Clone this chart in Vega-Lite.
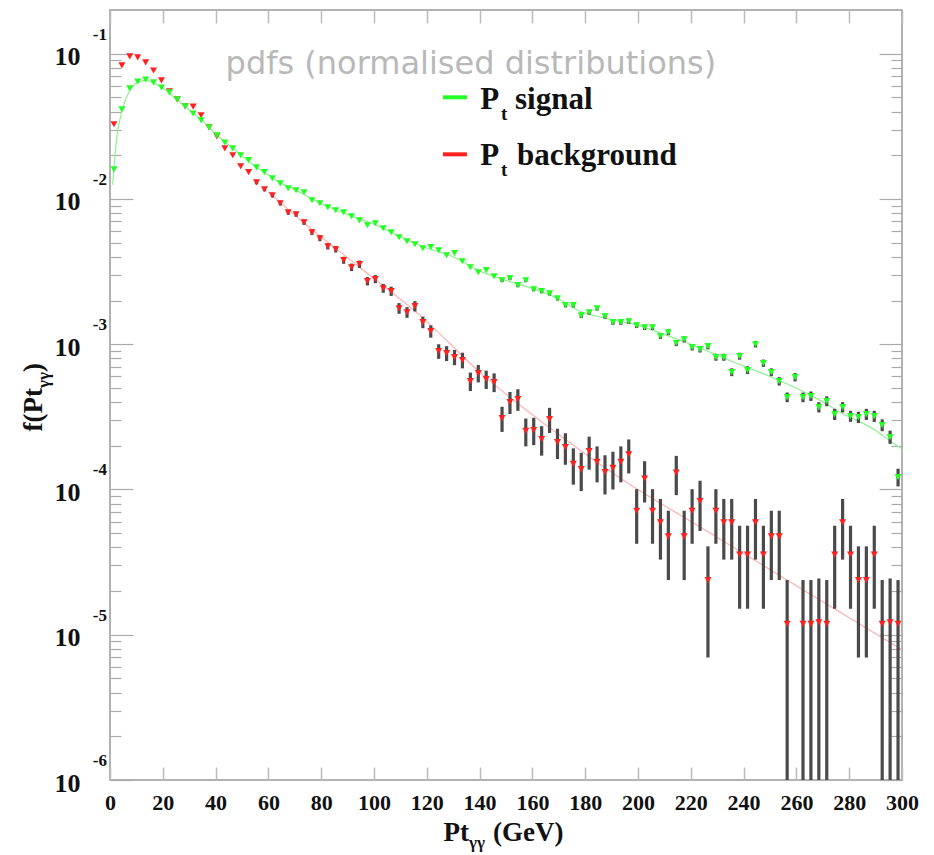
{
  "$schema": "https://vega.github.io/schema/vega-lite/v6.json",
  "width": 792,
  "height": 770,
  "autosize": {"type": "none"},
  "padding": {"left": 110, "top": 10, "right": 32, "bottom": 75},
  "background": "white",
  "config": {
    "view": {"stroke": "#999999", "strokeWidth": 1.5},
    "font": "Liberation Serif"
  },
  "datasets": {
    "pts": [
      {"pt": 1.5, "f": 0.0327, "s": "background"},
      {"pt": 4.5, "f": 0.0832, "s": "background"},
      {"pt": 7.5, "f": 0.0958, "s": "background"},
      {"pt": 10.5, "f": 0.0944, "s": "background"},
      {"pt": 13.5, "f": 0.0872, "s": "background"},
      {"pt": 16.5, "f": 0.0767, "s": "background"},
      {"pt": 19.5, "f": 0.0656, "s": "background"},
      {"pt": 22.5, "f": 0.0551, "s": "background"},
      {"pt": 25.5, "f": 0.0485, "s": "background"},
      {"pt": 28.5, "f": 0.0434, "s": "background"},
      {"pt": 31.5, "f": 0.0432, "s": "background"},
      {"pt": 34.5, "f": 0.0377, "s": "background"},
      {"pt": 37.5, "f": 0.0311, "s": "background"},
      {"pt": 40.5, "f": 0.0270, "s": "background"},
      {"pt": 43.5, "f": 0.0223, "s": "background"},
      {"pt": 46.5, "f": 0.0200, "s": "background"},
      {"pt": 49.5, "f": 0.0168, "s": "background"},
      {"pt": 52.5, "f": 0.0153, "s": "background"},
      {"pt": 55.5, "f": 0.0130, "s": "background", "lo": 0.01261, "hi": 0.01339},
      {"pt": 58.5, "f": 0.01167, "s": "background", "lo": 0.0113, "hi": 0.01204},
      {"pt": 61.5, "f": 0.0106, "s": "background", "lo": 0.01024, "hi": 0.01096},
      {"pt": 64.5, "f": 0.00934, "s": "background", "lo": 0.00901, "hi": 0.00967},
      {"pt": 67.5, "f": 0.0081, "s": "background", "lo": 0.00779, "hi": 0.00841},
      {"pt": 70.5, "f": 0.00785, "s": "background", "lo": 0.00754, "hi": 0.00816},
      {"pt": 73.5, "f": 0.00692, "s": "background", "lo": 0.00663, "hi": 0.00721},
      {"pt": 76.5, "f": 0.0059, "s": "background", "lo": 0.00564, "hi": 0.00616},
      {"pt": 79.5, "f": 0.00537, "s": "background", "lo": 0.00512, "hi": 0.00562},
      {"pt": 82.5, "f": 0.00473, "s": "background", "lo": 0.00449, "hi": 0.00497},
      {"pt": 85.5, "f": 0.00451, "s": "background", "lo": 0.00428, "hi": 0.00474},
      {"pt": 88.5, "f": 0.00379, "s": "background", "lo": 0.00358, "hi": 0.004},
      {"pt": 91.5, "f": 0.00339, "s": "background", "lo": 0.00319, "hi": 0.00359},
      {"pt": 94.5, "f": 0.00356, "s": "background", "lo": 0.00335, "hi": 0.00377},
      {"pt": 97.5, "f": 0.00272, "s": "background", "lo": 0.00254, "hi": 0.0029},
      {"pt": 100.5, "f": 0.00281, "s": "background", "lo": 0.00263, "hi": 0.00299},
      {"pt": 103.5, "f": 0.00243, "s": "background", "lo": 0.00226, "hi": 0.0026},
      {"pt": 106.5, "f": 0.00232, "s": "background", "lo": 0.00215, "hi": 0.00249},
      {"pt": 109.5, "f": 0.00177, "s": "background", "lo": 0.00162, "hi": 0.00192},
      {"pt": 112.5, "f": 0.00166, "s": "background", "lo": 0.00152, "hi": 0.0018},
      {"pt": 115.5, "f": 0.00183, "s": "background", "lo": 0.00168, "hi": 0.00198},
      {"pt": 118.5, "f": 0.00142, "s": "background", "lo": 0.00129, "hi": 0.00155},
      {"pt": 121.5, "f": 0.00123, "s": "background", "lo": 0.00111, "hi": 0.00135},
      {"pt": 124.5, "f": 0.000896, "s": "background", "lo": 0.000793, "hi": 0.000999},
      {"pt": 127.5, "f": 0.000868, "s": "background", "lo": 0.000766, "hi": 0.00097},
      {"pt": 130.5, "f": 0.000815, "s": "background", "lo": 0.000717, "hi": 0.000913},
      {"pt": 133.5, "f": 0.000778, "s": "background", "lo": 0.000682, "hi": 0.000874},
      {"pt": 136.5, "f": 0.000557, "s": "background", "lo": 0.000476, "hi": 0.000638},
      {"pt": 139.5, "f": 0.000633, "s": "background", "lo": 0.000546, "hi": 0.00072},
      {"pt": 142.5, "f": 0.000575, "s": "background", "lo": 0.000492, "hi": 0.000658},
      {"pt": 145.5, "f": 0.000549, "s": "background", "lo": 0.000468, "hi": 0.00063},
      {"pt": 148.5, "f": 0.00031, "s": "background", "lo": 0.000249, "hi": 0.000371},
      {"pt": 151.5, "f": 0.0004, "s": "background", "lo": 0.000331, "hi": 0.000469},
      {"pt": 154.5, "f": 0.000419, "s": "background", "lo": 0.000348, "hi": 0.00049},
      {"pt": 157.5, "f": 0.000253, "s": "background", "lo": 0.000198, "hi": 0.000308},
      {"pt": 160.5, "f": 0.000257, "s": "background", "lo": 0.000202, "hi": 0.000312},
      {"pt": 163.5, "f": 0.000222, "s": "background", "lo": 0.000171, "hi": 0.000273},
      {"pt": 166.5, "f": 0.000305, "s": "background", "lo": 0.000245, "hi": 0.000365},
      {"pt": 169.5, "f": 0.000212, "s": "background", "lo": 0.000162, "hi": 0.000262},
      {"pt": 172.5, "f": 0.000196, "s": "background", "lo": 0.000148, "hi": 0.000244},
      {"pt": 175.5, "f": 0.00015, "s": "background", "lo": 0.000108, "hi": 0.000192},
      {"pt": 178.5, "f": 0.000138, "s": "background", "lo": 0.0000975, "hi": 0.000179},
      {"pt": 181.5, "f": 0.000184, "s": "background", "lo": 0.000137, "hi": 0.000231},
      {"pt": 184.5, "f": 0.000155, "s": "background", "lo": 0.000112, "hi": 0.000198},
      {"pt": 187.5, "f": 0.000132, "s": "background", "lo": 0.0000924, "hi": 0.000172},
      {"pt": 190.5, "f": 0.000141, "s": "background", "lo": 0.0001, "hi": 0.000182},
      {"pt": 193.5, "f": 0.000155, "s": "background", "lo": 0.000112, "hi": 0.000198},
      {"pt": 196.5, "f": 0.000175, "s": "background", "lo": 0.000129, "hi": 0.000221},
      {"pt": 199.5, "f": 0.0000714, "s": "background", "lo": 0.0000423, "hi": 0.0001005},
      {"pt": 202.5, "f": 0.000119, "s": "background", "lo": 0.0000814, "hi": 0.0001566},
      {"pt": 205.5, "f": 0.0000714, "s": "background", "lo": 0.0000423, "hi": 0.0001005},
      {"pt": 208.5, "f": 0.0000595, "s": "background", "lo": 0.0000329, "hi": 0.0000861},
      {"pt": 211.5, "f": 0.0000476, "s": "background", "lo": 0.0000238, "hi": 0.0000714},
      {"pt": 214.5, "f": 0.0001309, "s": "background", "lo": 0.0000914, "hi": 0.0001704},
      {"pt": 217.5, "f": 0.0000476, "s": "background", "lo": 0.0000238, "hi": 0.0000714},
      {"pt": 220.5, "f": 0.0000714, "s": "background", "lo": 0.0000423, "hi": 0.0001005},
      {"pt": 223.5, "f": 0.0000833, "s": "background", "lo": 0.0000518, "hi": 0.0001148},
      {"pt": 226.5, "f": 0.0000238, "s": "background", "lo": 0.00000697, "hi": 0.0000406},
      {"pt": 229.5, "f": 0.0000714, "s": "background", "lo": 0.0000423, "hi": 0.0001005},
      {"pt": 232.5, "f": 0.0000595, "s": "background", "lo": 0.0000329, "hi": 0.0000861},
      {"pt": 235.5, "f": 0.0000595, "s": "background", "lo": 0.0000329, "hi": 0.0000861},
      {"pt": 238.5, "f": 0.0000357, "s": "background", "lo": 0.0000151, "hi": 0.0000563},
      {"pt": 241.5, "f": 0.0000357, "s": "background", "lo": 0.0000151, "hi": 0.0000563},
      {"pt": 244.5, "f": 0.0000595, "s": "background", "lo": 0.0000329, "hi": 0.0000861},
      {"pt": 247.5, "f": 0.0000357, "s": "background", "lo": 0.0000151, "hi": 0.0000563},
      {"pt": 250.5, "f": 0.0000476, "s": "background", "lo": 0.0000238, "hi": 0.0000714},
      {"pt": 253.5, "f": 0.0000476, "s": "background", "lo": 0.0000238, "hi": 0.0000714},
      {"pt": 256.5, "f": 0.0000119, "s": "background", "lo": 0.000001, "hi": 0.0000238},
      {"pt": 262.5, "f": 0.0000119, "s": "background", "lo": 0.000001, "hi": 0.0000238},
      {"pt": 265.5, "f": 0.0000119, "s": "background", "lo": 0.000001, "hi": 0.0000238},
      {"pt": 268.5, "f": 0.0000122, "s": "background", "lo": 0.000001, "hi": 0.0000244},
      {"pt": 271.5, "f": 0.0000119, "s": "background", "lo": 0.000001, "hi": 0.0000238},
      {"pt": 274.5, "f": 0.0000357, "s": "background", "lo": 0.0000151, "hi": 0.0000563},
      {"pt": 277.5, "f": 0.0000595, "s": "background", "lo": 0.0000329, "hi": 0.0000861},
      {"pt": 280.5, "f": 0.0000357, "s": "background", "lo": 0.0000151, "hi": 0.0000563},
      {"pt": 283.5, "f": 0.0000238, "s": "background", "lo": 0.00000697, "hi": 0.0000406},
      {"pt": 286.5, "f": 0.0000238, "s": "background", "lo": 0.00000697, "hi": 0.0000406},
      {"pt": 289.5, "f": 0.0000357, "s": "background", "lo": 0.0000151, "hi": 0.0000563},
      {"pt": 292.5, "f": 0.0000119, "s": "background", "lo": 0.000001, "hi": 0.0000238},
      {"pt": 295.5, "f": 0.0000122, "s": "background", "lo": 0.000001, "hi": 0.0000244},
      {"pt": 298.5, "f": 0.0000119, "s": "background", "lo": 0.000001, "hi": 0.0000238},

      {"pt": 1.5, "f": 0.0160, "s": "signal"},
      {"pt": 4.5, "f": 0.0414, "s": "signal"},
      {"pt": 7.5, "f": 0.0577, "s": "signal"},
      {"pt": 10.5, "f": 0.0644, "s": "signal"},
      {"pt": 13.5, "f": 0.0665, "s": "signal"},
      {"pt": 16.5, "f": 0.0635, "s": "signal"},
      {"pt": 19.5, "f": 0.0586, "s": "signal"},
      {"pt": 22.5, "f": 0.0542, "s": "signal"},
      {"pt": 25.5, "f": 0.0485, "s": "signal"},
      {"pt": 28.5, "f": 0.0434, "s": "signal"},
      {"pt": 31.5, "f": 0.0388, "s": "signal"},
      {"pt": 34.5, "f": 0.0348, "s": "signal"},
      {"pt": 37.5, "f": 0.0311, "s": "signal"},
      {"pt": 40.5, "f": 0.0274, "s": "signal"},
      {"pt": 43.5, "f": 0.0245, "s": "signal"},
      {"pt": 46.5, "f": 0.0223, "s": "signal"},
      {"pt": 49.5, "f": 0.0200, "s": "signal"},
      {"pt": 52.5, "f": 0.0185, "s": "signal"},
      {"pt": 55.5, "f": 0.0165, "s": "signal"},
      {"pt": 58.5, "f": 0.0153, "s": "signal"},
      {"pt": 61.5, "f": 0.0139, "s": "signal"},
      {"pt": 64.5, "f": 0.0128, "s": "signal"},
      {"pt": 67.5, "f": 0.01185, "s": "signal"},
      {"pt": 70.5, "f": 0.01148, "s": "signal"},
      {"pt": 73.5, "f": 0.01112, "s": "signal"},
      {"pt": 76.5, "f": 0.0098, "s": "signal"},
      {"pt": 79.5, "f": 0.00934, "s": "signal"},
      {"pt": 82.5, "f": 0.00877, "s": "signal"},
      {"pt": 85.5, "f": 0.00836, "s": "signal"},
      {"pt": 88.5, "f": 0.0081, "s": "signal"},
      {"pt": 91.5, "f": 0.0076, "s": "signal"},
      {"pt": 94.5, "f": 0.00713, "s": "signal"},
      {"pt": 97.5, "f": 0.00659, "s": "signal"},
      {"pt": 100.5, "f": 0.00681, "s": "signal"},
      {"pt": 103.5, "f": 0.00629, "s": "signal"},
      {"pt": 106.5, "f": 0.0059, "s": "signal"},
      {"pt": 109.5, "f": 0.00545, "s": "signal"},
      {"pt": 112.5, "f": 0.00512, "s": "signal"},
      {"pt": 115.5, "f": 0.00488, "s": "signal"},
      {"pt": 118.5, "f": 0.00458, "s": "signal"},
      {"pt": 121.5, "f": 0.00466, "s": "signal"},
      {"pt": 124.5, "f": 0.00444, "s": "signal"},
      {"pt": 127.5, "f": 0.0041, "s": "signal"},
      {"pt": 130.5, "f": 0.00424, "s": "signal"},
      {"pt": 133.5, "f": 0.00373, "s": "signal"},
      {"pt": 136.5, "f": 0.00339, "s": "signal"},
      {"pt": 139.5, "f": 0.00313, "s": "signal"},
      {"pt": 142.5, "f": 0.00324, "s": "signal"},
      {"pt": 145.5, "f": 0.00294, "s": "signal"},
      {"pt": 148.5, "f": 0.00276, "s": "signal", "lo": 0.002677, "hi": 0.002843},
      {"pt": 151.5, "f": 0.00285, "s": "signal", "lo": 0.002766, "hi": 0.002934},
      {"pt": 154.5, "f": 0.00255, "s": "signal", "lo": 0.00247, "hi": 0.00263},
      {"pt": 157.5, "f": 0.00276, "s": "signal", "lo": 0.002677, "hi": 0.002843},
      {"pt": 160.5, "f": 0.00239, "s": "signal", "lo": 0.002313, "hi": 0.002467},
      {"pt": 163.5, "f": 0.00232, "s": "signal", "lo": 0.002244, "hi": 0.002396},
      {"pt": 166.5, "f": 0.00224, "s": "signal", "lo": 0.002165, "hi": 0.002315},
      {"pt": 169.5, "f": 0.00207, "s": "signal", "lo": 0.001998, "hi": 0.002142},
      {"pt": 172.5, "f": 0.00186, "s": "signal", "lo": 0.001792, "hi": 0.001928},
      {"pt": 175.5, "f": 0.00186, "s": "signal", "lo": 0.001792, "hi": 0.001928},
      {"pt": 178.5, "f": 0.00158, "s": "signal", "lo": 0.001517, "hi": 0.001643},
      {"pt": 181.5, "f": 0.00166, "s": "signal", "lo": 0.001596, "hi": 0.001724},
      {"pt": 184.5, "f": 0.00177, "s": "signal", "lo": 0.001703, "hi": 0.001837},
      {"pt": 187.5, "f": 0.00156, "s": "signal", "lo": 0.001498, "hi": 0.001622},
      {"pt": 190.5, "f": 0.00142, "s": "signal", "lo": 0.00136, "hi": 0.00148},
      {"pt": 193.5, "f": 0.00142, "s": "signal", "lo": 0.00136, "hi": 0.00148},
      {"pt": 196.5, "f": 0.00144, "s": "signal", "lo": 0.00138, "hi": 0.0015},
      {"pt": 199.5, "f": 0.00135, "s": "signal", "lo": 0.001292, "hi": 0.001408},
      {"pt": 202.5, "f": 0.00131, "s": "signal", "lo": 0.001253, "hi": 0.001367},
      {"pt": 205.5, "f": 0.00131, "s": "signal", "lo": 0.001253, "hi": 0.001367},
      {"pt": 208.5, "f": 0.00114, "s": "signal", "lo": 0.001087, "hi": 0.001193},
      {"pt": 211.5, "f": 0.00121, "s": "signal", "lo": 0.001155, "hi": 0.001265},
      {"pt": 214.5, "f": 0.00102, "s": "signal", "lo": 0.00097, "hi": 0.00107},
      {"pt": 217.5, "f": 0.00108, "s": "signal", "lo": 0.001028, "hi": 0.001132},
      {"pt": 220.5, "f": 0.000955, "s": "signal", "lo": 0.000906, "hi": 0.001004},
      {"pt": 223.5, "f": 0.000925, "s": "signal", "lo": 0.000877, "hi": 0.000973},
      {"pt": 226.5, "f": 0.00097, "s": "signal", "lo": 0.000921, "hi": 0.001019},
      {"pt": 229.5, "f": 0.000815, "s": "signal", "lo": 0.00077, "hi": 0.00086},
      {"pt": 232.5, "f": 0.000815, "s": "signal", "lo": 0.00077, "hi": 0.00086},
      {"pt": 235.5, "f": 0.000643, "s": "signal", "lo": 0.000603, "hi": 0.000683},
      {"pt": 238.5, "f": 0.000828, "s": "signal", "lo": 0.000782, "hi": 0.000874},
      {"pt": 241.5, "f": 0.000664, "s": "signal", "lo": 0.000623, "hi": 0.000705},
      {"pt": 244.5, "f": 0.001, "s": "signal", "lo": 0.00095, "hi": 0.00105},
      {"pt": 247.5, "f": 0.000741, "s": "signal", "lo": 0.000698, "hi": 0.000784},
      {"pt": 250.5, "f": 0.000643, "s": "signal", "lo": 0.000603, "hi": 0.000683},
      {"pt": 253.5, "f": 0.000557, "s": "signal", "lo": 0.00052, "hi": 0.000594},
      {"pt": 256.5, "f": 0.000432, "s": "signal", "lo": 0.000399, "hi": 0.000465},
      {"pt": 259.5, "f": 0.000594, "s": "signal", "lo": 0.000555, "hi": 0.000633},
      {"pt": 262.5, "f": 0.000432, "s": "signal", "lo": 0.000399, "hi": 0.000465},
      {"pt": 265.5, "f": 0.00044, "s": "signal", "lo": 0.000407, "hi": 0.000473},
      {"pt": 268.5, "f": 0.000369, "s": "signal", "lo": 0.000339, "hi": 0.000399},
      {"pt": 271.5, "f": 0.000406, "s": "signal", "lo": 0.000374, "hi": 0.000438},
      {"pt": 274.5, "f": 0.00033, "s": "signal", "lo": 0.000301, "hi": 0.000359},
      {"pt": 277.5, "f": 0.000369, "s": "signal", "lo": 0.000339, "hi": 0.000399},
      {"pt": 280.5, "f": 0.00032, "s": "signal", "lo": 0.000292, "hi": 0.000348},
      {"pt": 283.5, "f": 0.000315, "s": "signal", "lo": 0.000287, "hi": 0.000343},
      {"pt": 286.5, "f": 0.00033, "s": "signal", "lo": 0.000301, "hi": 0.000359},
      {"pt": 289.5, "f": 0.00032, "s": "signal", "lo": 0.000292, "hi": 0.000348},
      {"pt": 292.5, "f": 0.000278, "s": "signal", "lo": 0.000252, "hi": 0.000304},
      {"pt": 295.5, "f": 0.00023, "s": "signal", "lo": 0.000206, "hi": 0.000254},
      {"pt": 298.5, "f": 0.000122, "s": "signal", "lo": 0.000105, "hi": 0.000139}
    ],
    "fits": [
      {"pt": 1, "f": 0.0125, "s": "signal"},
      {"pt": 2.5, "f": 0.026, "s": "signal"},
      {"pt": 4.5, "f": 0.040, "s": "signal"},
      {"pt": 7.5, "f": 0.056, "s": "signal"},
      {"pt": 10.5, "f": 0.0635, "s": "signal"},
      {"pt": 13.5, "f": 0.0655, "s": "signal"},
      {"pt": 16.5, "f": 0.063, "s": "signal"},
      {"pt": 20, "f": 0.058, "s": "signal"},
      {"pt": 25, "f": 0.049, "s": "signal"},
      {"pt": 30, "f": 0.041, "s": "signal"},
      {"pt": 35, "f": 0.0345, "s": "signal"},
      {"pt": 40, "f": 0.028, "s": "signal"},
      {"pt": 45, "f": 0.0235, "s": "signal"},
      {"pt": 50, "f": 0.0198, "s": "signal"},
      {"pt": 55, "f": 0.0168, "s": "signal"},
      {"pt": 60, "f": 0.0146, "s": "signal"},
      {"pt": 65, "f": 0.0128, "s": "signal"},
      {"pt": 70, "f": 0.0116, "s": "signal"},
      {"pt": 75, "f": 0.0104, "s": "signal"},
      {"pt": 80, "f": 0.0093, "s": "signal"},
      {"pt": 90, "f": 0.0078, "s": "signal"},
      {"pt": 100, "f": 0.0067, "s": "signal"},
      {"pt": 110, "f": 0.0055, "s": "signal"},
      {"pt": 120, "f": 0.0046, "s": "signal"},
      {"pt": 130, "f": 0.0040, "s": "signal"},
      {"pt": 140, "f": 0.0032, "s": "signal"},
      {"pt": 150, "f": 0.00275, "s": "signal"},
      {"pt": 160, "f": 0.00242, "s": "signal"},
      {"pt": 170, "f": 0.00205, "s": "signal"},
      {"pt": 177, "f": 0.00172, "s": "signal"},
      {"pt": 190, "f": 0.00148, "s": "signal"},
      {"pt": 200, "f": 0.00135, "s": "signal"},
      {"pt": 210, "f": 0.00117, "s": "signal"},
      {"pt": 220, "f": 0.001, "s": "signal"},
      {"pt": 235, "f": 0.00077, "s": "signal"},
      {"pt": 250, "f": 0.0006, "s": "signal"},
      {"pt": 265, "f": 0.00045, "s": "signal"},
      {"pt": 278, "f": 0.00033, "s": "signal"},
      {"pt": 290, "f": 0.000255, "s": "signal"},
      {"pt": 296, "f": 0.000212, "s": "signal"},
      {"pt": 300, "f": 0.00019, "s": "signal"},
      {"pt": 60, "f": 0.0112, "s": "background"},
      {"pt": 75, "f": 0.00649, "s": "background"},
      {"pt": 95, "f": 0.00334, "s": "background"},
      {"pt": 117.4, "f": 0.00158, "s": "background"},
      {"pt": 141.3, "f": 0.000613, "s": "background"},
      {"pt": 166.7, "f": 0.000265, "s": "background"},
      {"pt": 193.2, "f": 0.00012, "s": "background"},
      {"pt": 227.3, "f": 0.0000502, "s": "background"},
      {"pt": 261.4, "f": 0.000021, "s": "background"},
      {"pt": 300, "f": 0.0000079, "s": "background"}
    ],
    "expo": [
      {"e": 0.1, "lab": "-1"},
      {"e": 0.01, "lab": "-2"},
      {"e": 0.001, "lab": "-3"},
      {"e": 0.0001, "lab": "-4"},
      {"e": 0.00001, "lab": "-5"},
      {"e": 0.000001, "lab": "-6"}
    ],
    "one": [{"k": 1}]
  },
  "resolve": {"axis": {"x": "independent", "y": "independent"}, "scale": {"color": "independent"}},
  "layer": [
    {
      "data": {"name": "fits"},
      "mark": {"type": "line", "strokeWidth": 1.2, "interpolate": "monotone", "clip": true},
      "encoding": {
        "x": {"field": "pt", "type": "quantitative",
              "scale": {"domain": [0, 300], "nice": false, "zero": false},
              "axis": {"orient": "bottom", "title": null, "values": [0,20,40,60,80,100,120,140,160,180,200,220,240,260,280,300],
                       "tickSize": -13, "tickColor": "#bbbbbb", "tickWidth": 1.5, "domain": false, "grid": false,
                       "labelFont": "Liberation Serif", "labelFontWeight": "bold", "labelFontSize": 22, "labelColor": "#111111",
                       "labelPadding": 25, "labelFlush": false, "labelOverlap": false}},
        "y": {"field": "f", "type": "quantitative",
              "scale": {"type": "log", "domain": [0.000001, 0.2], "nice": false},
              "axis": {"orient": "left", "title": null, "domain": false, "grid": false,
                       "values": [0.000001,0.000002,0.000003,0.000004,0.000005,0.000006,0.000007,0.000008,0.000009,
                                  0.00001,0.00002,0.00003,0.00004,0.00005,0.00006,0.00007,0.00008,0.00009,
                                  0.0001,0.0002,0.0003,0.0004,0.0005,0.0006,0.0007,0.0008,0.0009,
                                  0.001,0.002,0.003,0.004,0.005,0.006,0.007,0.008,0.009,
                                  0.01,0.02,0.03,0.04,0.05,0.06,0.07,0.08,0.09,0.1],
                       "tickSize": {"condition": {"test": "abs(log(datum.value)/LN10 - round(log(datum.value)/LN10)) < 0.01", "value": -23}, "value": -11},
                       "tickColor": "#aaaaaa", "tickWidth": 1.2,
                       "labelExpr": "abs(log(datum.value)/LN10 - round(log(datum.value)/LN10)) < 0.01 ? '10' : ''",
                       "labelFont": "Liberation Serif", "labelFontWeight": "bold", "labelFontSize": 26, "labelColor": "#111111",
                       "labelPadding": 53, "labelOverlap": false, "labelFlush": false, "labelBaseline": "middle", "labelOffset": 3}},
        "color": {"field": "s", "type": "nominal", "legend": null,
                  "scale": {"domain": ["signal", "background"], "range": ["#8ef08e", "#ffb0b0"]}},
        "detail": {"field": "s"}
      }
    },
    {
      "data": {"name": "pts"},
      "transform": [{"filter": "isValid(datum.lo)"}],
      "mark": {"type": "rule", "strokeWidth": 3.2, "color": "#4a4a4a", "clip": true},
      "encoding": {
        "x": {"field": "pt", "type": "quantitative",
              "axis": {"orient": "top", "title": null, "values": [0,20,40,60,80,100,120,140,160,180,200,220,240,260,280,300],
                       "tickSize": -13, "tickColor": "#bbbbbb", "tickWidth": 1.5, "domain": false, "grid": false, "labels": false}},
        "y": {"field": "lo", "type": "quantitative",
              "axis": {"orient": "right", "title": null, "domain": false, "grid": false, "labels": false,
                       "values": [0.000001,0.000002,0.000003,0.000004,0.000005,0.000006,0.000007,0.000008,0.000009,
                                  0.00001,0.00002,0.00003,0.00004,0.00005,0.00006,0.00007,0.00008,0.00009,
                                  0.0001,0.0002,0.0003,0.0004,0.0005,0.0006,0.0007,0.0008,0.0009,
                                  0.001,0.002,0.003,0.004,0.005,0.006,0.007,0.008,0.009,
                                  0.01,0.02,0.03,0.04,0.05,0.06,0.07,0.08,0.09,0.1],
                       "tickSize": {"condition": {"test": "abs(log(datum.value)/LN10 - round(log(datum.value)/LN10)) < 0.01", "value": -23}, "value": -11},
                       "tickColor": "#aaaaaa", "tickWidth": 1.2}},
        "y2": {"field": "hi"}
      }
    },
    {
      "data": {"name": "pts"},
      "mark": {"type": "point", "shape": "triangle-down", "filled": true, "size": 50, "opacity": 1},
      "encoding": {
        "x": {"field": "pt", "type": "quantitative", "axis": null},
        "y": {"field": "f", "type": "quantitative", "axis": null},
        "color": {"field": "s", "type": "nominal", "legend": null,
                  "scale": {"domain": ["signal", "background"], "range": ["#22ff22", "#ff2020"]}}
      }
    },
    {
      "data": {"name": "expo"},
      "mark": {"type": "text", "align": "right", "baseline": "middle", "dx": -3, "dy": -19, "font": "Liberation Serif", "fontWeight": "bold", "fontSize": 17, "color": "#111111"},
      "encoding": {
        "x": {"datum": 0, "type": "quantitative", "axis": null},
        "y": {"field": "e", "type": "quantitative", "axis": null},
        "text": {"field": "lab"}
      }
    },
    {
      "data": {"name": "one"},
      "mark": {"type": "text", "align": "center", "baseline": "alphabetic", "font": "DejaVu Sans", "fontSize": 32, "color": "#b8b8b8"},
      "encoding": {
        "x": {"datum": 136.7, "type": "quantitative", "axis": null},
        "y": {"datum": 0.0725, "type": "quantitative", "axis": null},
        "text": {"value": "pdfs (normalised distributions)"}
      }
    },
    {
      "data": {"name": "one"},
      "mark": {"type": "rule", "strokeWidth": 4, "color": "#22ff22"},
      "encoding": {
        "x": {"datum": 126.1, "type": "quantitative", "axis": null},
        "x2": {"datum": 135.2},
        "y": {"datum": 0.0501, "type": "quantitative", "axis": null}
      }
    },
    {
      "data": {"name": "one"},
      "mark": {"type": "rule", "strokeWidth": 4, "color": "#ff2020"},
      "encoding": {
        "x": {"datum": 126.1, "type": "quantitative", "axis": null},
        "x2": {"datum": 135.2},
        "y": {"datum": 0.0203, "type": "quantitative", "axis": null}
      }
    },
    {
      "data": {"name": "one"},
      "mark": {"type": "text", "align": "left", "baseline": "alphabetic", "font": "Liberation Serif", "fontWeight": "bold", "fontSize": 31, "color": "#111111"},
      "encoding": {
        "x": {"datum": 140.2, "type": "quantitative", "axis": null},
        "y": {"datum": 0.0414, "type": "quantitative", "axis": null},
        "text": {"value": "P"}
      }
    },
    {
      "data": {"name": "one"},
      "mark": {"type": "text", "align": "left", "baseline": "alphabetic", "dy": 11, "font": "Liberation Serif", "fontWeight": "bold", "fontSize": 19, "color": "#111111"},
      "encoding": {
        "x": {"datum": 148.1, "type": "quantitative", "axis": null},
        "y": {"datum": 0.0414, "type": "quantitative", "axis": null},
        "text": {"value": "t"}
      }
    },
    {
      "data": {"name": "one"},
      "mark": {"type": "text", "align": "left", "baseline": "alphabetic", "font": "Liberation Serif", "fontWeight": "bold", "fontSize": 31, "color": "#111111"},
      "encoding": {
        "x": {"datum": 153.4, "type": "quantitative", "axis": null},
        "y": {"datum": 0.0414, "type": "quantitative", "axis": null},
        "text": {"value": "signal"}
      }
    },
    {
      "data": {"name": "one"},
      "mark": {"type": "text", "align": "left", "baseline": "alphabetic", "font": "Liberation Serif", "fontWeight": "bold", "fontSize": 31, "color": "#111111"},
      "encoding": {
        "x": {"datum": 140.2, "type": "quantitative", "axis": null},
        "y": {"datum": 0.01706, "type": "quantitative", "axis": null},
        "text": {"value": "P"}
      }
    },
    {
      "data": {"name": "one"},
      "mark": {"type": "text", "align": "left", "baseline": "alphabetic", "dy": 11, "font": "Liberation Serif", "fontWeight": "bold", "fontSize": 19, "color": "#111111"},
      "encoding": {
        "x": {"datum": 148.1, "type": "quantitative", "axis": null},
        "y": {"datum": 0.01706, "type": "quantitative", "axis": null},
        "text": {"value": "t"}
      }
    },
    {
      "data": {"name": "one"},
      "mark": {"type": "text", "align": "left", "baseline": "alphabetic", "font": "Liberation Serif", "fontWeight": "bold", "fontSize": 31, "color": "#111111"},
      "encoding": {
        "x": {"datum": 154.2, "type": "quantitative", "axis": null},
        "y": {"datum": 0.01706, "type": "quantitative", "axis": null},
        "text": {"value": "background"}
      }
    },
    {
      "data": {"name": "one"},
      "mark": {"type": "text", "align": "right", "baseline": "alphabetic", "dy": 61, "font": "Liberation Serif", "fontWeight": "bold", "fontSize": 27, "color": "#111111"},
      "encoding": {
        "x": {"datum": 136.0, "type": "quantitative", "axis": null},
        "y": {"datum": 0.000001, "type": "quantitative", "axis": null},
        "text": {"value": "Pt"}
      }
    },
    {
      "data": {"name": "one"},
      "mark": {"type": "text", "align": "left", "baseline": "alphabetic", "dy": 68, "font": "Liberation Serif", "fontWeight": "bold", "fontSize": 17, "color": "#111111"},
      "encoding": {
        "x": {"datum": 136.0, "type": "quantitative", "axis": null},
        "y": {"datum": 0.000001, "type": "quantitative", "axis": null},
        "text": {"value": "γγ"}
      }
    },
    {
      "data": {"name": "one"},
      "mark": {"type": "text", "align": "left", "baseline": "alphabetic", "dy": 61, "dx": 24, "font": "Liberation Serif", "fontWeight": "bold", "fontSize": 27, "color": "#111111"},
      "encoding": {
        "x": {"datum": 136.0, "type": "quantitative", "axis": null},
        "y": {"datum": 0.000001, "type": "quantitative", "axis": null},
        "text": {"value": "(GeV)"}
      }
    },
    {
      "data": {"name": "one"},
      "mark": {"type": "text", "align": "right", "baseline": "alphabetic", "angle": 270, "dy": -68, "font": "Liberation Serif", "fontWeight": "bold", "fontSize": 27, "color": "#111111"},
      "encoding": {
        "x": {"datum": 0, "type": "quantitative", "axis": null},
        "y": {"datum": 0.0005, "type": "quantitative", "axis": null},
        "text": {"value": "f(Pt"}
      }
    },
    {
      "data": {"name": "one"},
      "mark": {"type": "text", "align": "left", "baseline": "alphabetic", "angle": 270, "dy": -61, "font": "Liberation Serif", "fontWeight": "bold", "fontSize": 17, "color": "#111111"},
      "encoding": {
        "x": {"datum": 0, "type": "quantitative", "axis": null},
        "y": {"datum": 0.0005, "type": "quantitative", "axis": null},
        "text": {"value": "γγ"}
      }
    },
    {
      "data": {"name": "one"},
      "mark": {"type": "text", "align": "left", "baseline": "alphabetic", "angle": 270, "dy": -68, "dx": 16, "font": "Liberation Serif", "fontWeight": "bold", "fontSize": 27, "color": "#111111"},
      "encoding": {
        "x": {"datum": 0, "type": "quantitative", "axis": null},
        "y": {"datum": 0.0005, "type": "quantitative", "axis": null},
        "text": {"value": ")"}
      }
    }
  ]
}
